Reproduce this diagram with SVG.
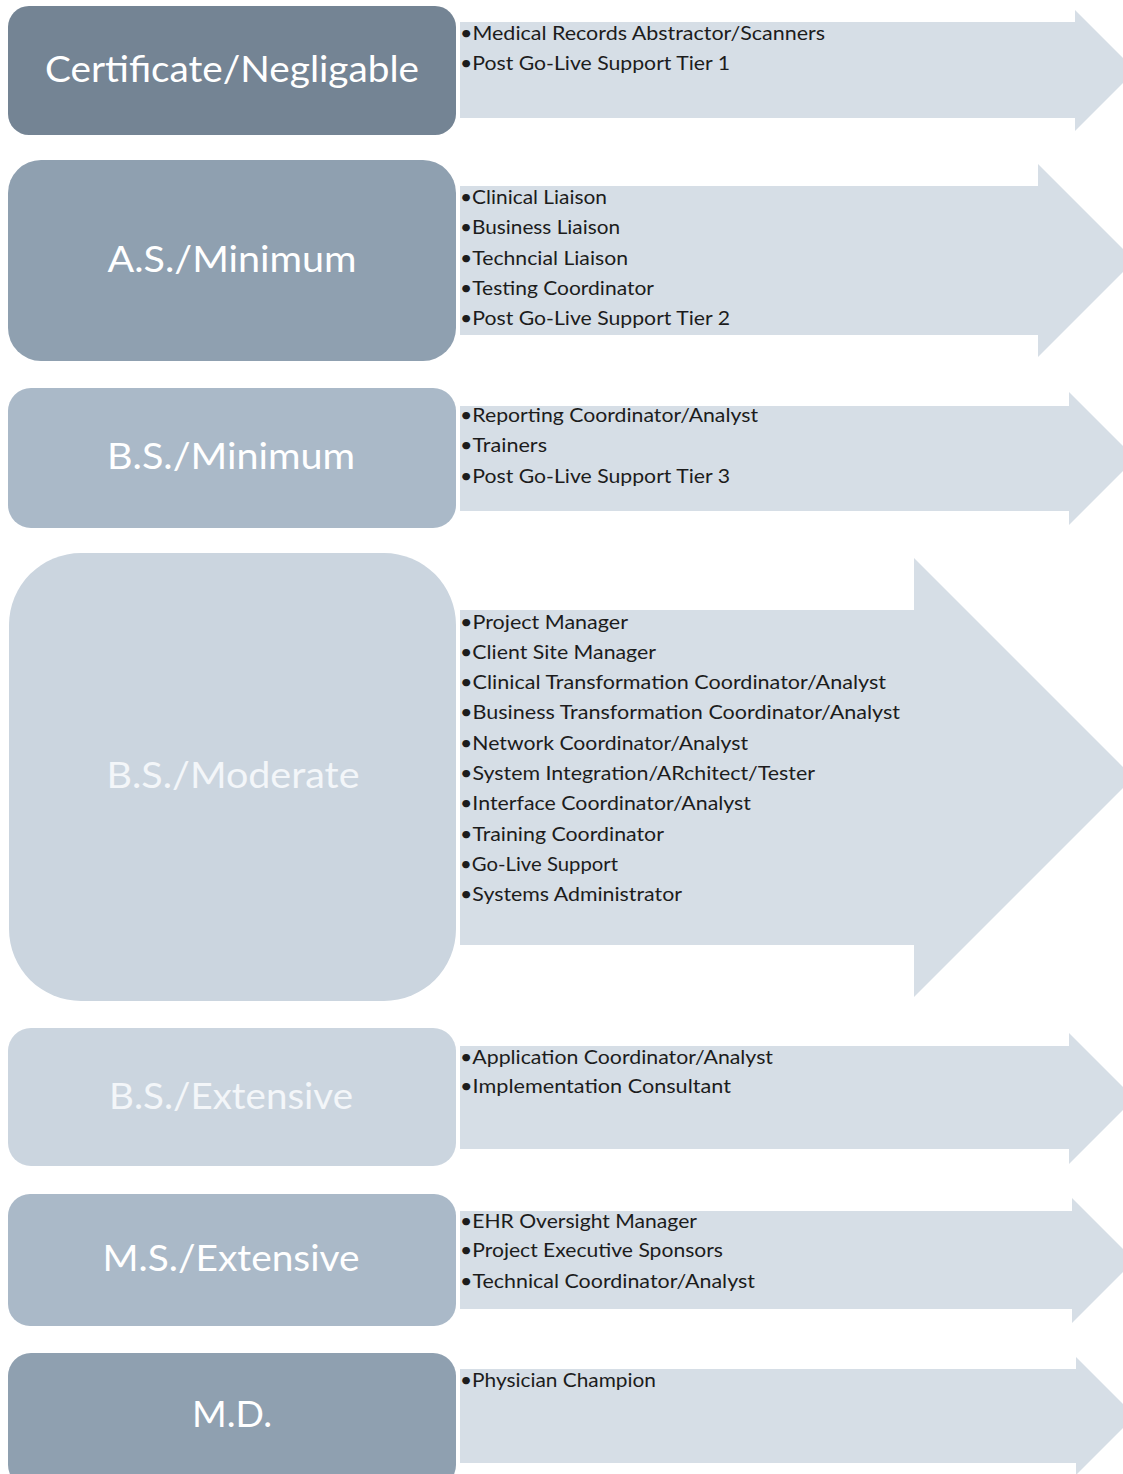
<svg xmlns="http://www.w3.org/2000/svg" width="1123" height="1474" viewBox="0 0 1123 1474">
<style>
.hd{font-family:Lato,"Liberation Sans",sans-serif;font-size:37px;fill:#ffffff;text-anchor:middle}
.hl{fill:#f3f6f9}
.it{font-family:Lato,"Liberation Sans",sans-serif;font-size:20px;fill:#1c1c1c}
.ar{fill:#d6dee6}
.c1{fill:#748494}.c2{fill:#8fa0b0}.c3{fill:#aab9c8}.c4{fill:#cbd5df}
</style>
<rect width="1123" height="1474" fill="#ffffff"/>
<g id="connectors"/>
<g id="n1">
<path class="ar" d="M460,22 H1075 V10 L1135.5,70.5 L1075,131 V118 H460 Z"/>
<rect class="c1" x="8" y="6" width="448" height="129" rx="21"/>
<text class="hd" x="232" y="82" textLength="374" lengthAdjust="spacingAndGlyphs">Certificate/Negligable</text>
<text class="it" x="460" y="40" textLength="365" lengthAdjust="spacingAndGlyphs">•Medical Records Abstractor/Scanners</text>
<text class="it" x="460" y="70" textLength="270" lengthAdjust="spacingAndGlyphs">•Post Go-Live Support  Tier 1</text>
</g>
<g id="n2">
<path class="ar" d="M460,186 H1038 V164 L1134.5,260.5 L1038,357 V335 H460 Z"/>
<rect class="c2" x="8" y="160" width="448" height="201" rx="33"/>
<text class="hd" x="232" y="272" textLength="249" lengthAdjust="spacingAndGlyphs">A.S./Minimum</text>
<text class="it" x="460" y="204" textLength="147" lengthAdjust="spacingAndGlyphs">•Clinical Liaison</text>
<text class="it" x="460" y="234" textLength="160" lengthAdjust="spacingAndGlyphs">•Business Liaison</text>
<text class="it" x="460" y="265" textLength="168" lengthAdjust="spacingAndGlyphs">•Techncial Liaison</text>
<text class="it" x="460" y="295" textLength="194" lengthAdjust="spacingAndGlyphs">•Testing Coordinator</text>
<text class="it" x="460" y="325" textLength="270" lengthAdjust="spacingAndGlyphs">•Post Go-Live Support  Tier 2</text>
</g>
<g id="n3">
<path class="ar" d="M460,406 H1069 V392 L1135.5,458.5 L1069,525 V511 H460 Z"/>
<rect class="c3" x="8" y="388" width="448" height="140" rx="23"/>
<text class="hd" x="231" y="469" textLength="248" lengthAdjust="spacingAndGlyphs">B.S./Minimum</text>
<text class="it" x="460" y="422" textLength="298" lengthAdjust="spacingAndGlyphs">•Reporting Coordinator/Analyst</text>
<text class="it" x="460" y="452" textLength="87" lengthAdjust="spacingAndGlyphs">•Trainers</text>
<text class="it" x="460" y="483" textLength="270" lengthAdjust="spacingAndGlyphs">•Post Go-Live Support  Tier 3</text>
</g>
<g id="n4">
<path class="ar" d="M460,610 H914 V558 L1133.5,777.5 L914,997 V945 H460 Z"/>
<rect class="c4" x="9" y="553" width="447" height="448" rx="72"/>
<text class="hd hl" x="233" y="788" textLength="253" lengthAdjust="spacingAndGlyphs">B.S./Moderate</text>
<text class="it" x="460" y="629" textLength="168" lengthAdjust="spacingAndGlyphs">•Project Manager</text>
<text class="it" x="460" y="659" textLength="196" lengthAdjust="spacingAndGlyphs">•Client Site Manager</text>
<text class="it" x="460" y="689" textLength="426" lengthAdjust="spacingAndGlyphs">•Clinical Transformation  Coordinator/Analyst</text>
<text class="it" x="460" y="719" textLength="440" lengthAdjust="spacingAndGlyphs">•Business Transformation  Coordinator/Analyst</text>
<text class="it" x="460" y="750" textLength="288" lengthAdjust="spacingAndGlyphs">•Network Coordinator/Analyst</text>
<text class="it" x="460" y="780" textLength="355" lengthAdjust="spacingAndGlyphs">•System Integration/ARchitect/Tester</text>
<text class="it" x="460" y="810" textLength="291" lengthAdjust="spacingAndGlyphs">•Interface Coordinator/Analyst</text>
<text class="it" x="460" y="841" textLength="204" lengthAdjust="spacingAndGlyphs">•Training Coordinator</text>
<text class="it" x="460" y="871" textLength="158" lengthAdjust="spacingAndGlyphs">•Go-Live Support</text>
<text class="it" x="460" y="901" textLength="222" lengthAdjust="spacingAndGlyphs">•Systems Administrator</text>
</g>
<g id="n5">
<path class="ar" d="M460,1046 H1069 V1033 L1134.5,1098.5 L1069,1164 V1149 H460 Z"/>
<rect class="c4" x="8" y="1028" width="448" height="138" rx="23"/>
<text class="hd hl" x="231" y="1109" textLength="244" lengthAdjust="spacingAndGlyphs">B.S./Extensive</text>
<text class="it" x="460" y="1064" textLength="313" lengthAdjust="spacingAndGlyphs">•Application Coordinator/Analyst</text>
<text class="it" x="460" y="1093" textLength="271" lengthAdjust="spacingAndGlyphs">•Implementation  Consultant</text>
</g>
<g id="n6">
<path class="ar" d="M460,1211 H1072 V1198 L1134.5,1260.5 L1072,1323 V1309 H460 Z"/>
<rect class="c3" x="8" y="1194" width="448" height="132" rx="22"/>
<text class="hd" x="231" y="1271" textLength="257" lengthAdjust="spacingAndGlyphs">M.S./Extensive</text>
<text class="it" x="460" y="1228" textLength="237" lengthAdjust="spacingAndGlyphs">•EHR Oversight  Manager</text>
<text class="it" x="460" y="1257" textLength="263" lengthAdjust="spacingAndGlyphs">•Project Executive Sponsors</text>
<text class="it" x="460" y="1288" textLength="295" lengthAdjust="spacingAndGlyphs">•Technical Coordinator/Analyst</text>
</g>
<g id="n7">
<path class="ar" d="M460,1369 H1076 V1357 L1135,1416 L1076,1475 V1463 H460 Z"/>
<rect class="c2" x="8" y="1353" width="448" height="135" rx="23"/>
<text class="hd" x="232" y="1427" textLength="80" lengthAdjust="spacingAndGlyphs">M.D.</text>
<text class="it" x="460" y="1387" textLength="196" lengthAdjust="spacingAndGlyphs">•Physician Champion</text>
</g>
</svg>
